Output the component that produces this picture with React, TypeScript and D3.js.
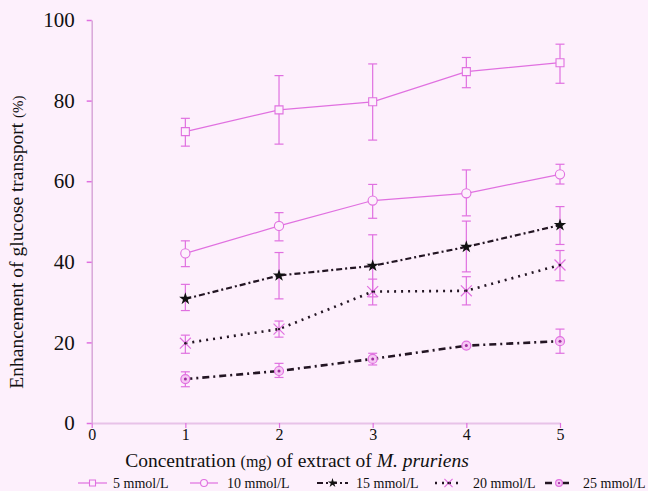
import React, { useRef, useEffect } from "react";
import * as d3 from "d3";

// values
const concentration = [1, 2, 3, 4, 5];
const xTicks = [0, 1, 2, 3, 4, 5];
const yTicks = [0, 20, 40, 60, 80, 100];

const mean5 = [72.3, 77.7, 79.7, 87.2, 89.4];
const hi5 = [75.6, 86.2, 89.1, 90.7, 94.0];
const lo5 = [68.7, 69.2, 70.2, 83.2, 84.3];

const mean10 = [42.1, 48.9, 55.2, 57.0, 61.7];
const hi10 = [45.2, 52.2, 59.2, 62.8, 64.2];
const lo10 = [38.8, 45.2, 50.8, 51.4, 59.3];

const mean15 = [30.8, 36.6, 39.0, 43.7, 49.1];
const hi15 = [34.4, 42.3, 46.7, 50.1, 53.7];
const lo15 = [27.9, 30.8, 31.3, 37.5, 44.3];

const mean20 = [19.8, 23.3, 32.6, 32.8, 39.2];
const hi20 = [21.8, 25.3, 35.7, 36.3, 42.8];
const lo20 = [17.3, 21.3, 29.3, 29.3, 35.3];

const mean25 = [10.9, 12.9, 15.9, 19.2, 20.3];
const hi25 = [12.7, 14.8, 17.3, 19.2, 23.3];
const lo25 = [9.0, 11.3, 14.4, 19.2, 17.3];

const seriesNames = ["5 mmol/L", "10 mmol/L", "15 mmol/L", "20 mmol/L", "25 mmol/L"];

const PINK = "#e070e0";
const DARK = "#231523";
const BG = "#fdf0fc";
const FONT = "'Liberation Serif', 'Times New Roman', serif";

const W = 648;
const H = 491;

// legend layout: [line start, line end, text x]
const legendPos = [
  [78, 107, 113],
  [190, 218, 227],
  [317, 348, 356],
  [435, 462, 473],
  [545, 573, 583]
];

const App = () => {
  const svgRef = useRef<SVGSVGElement | null>(null);

  useEffect(() => {
    const svg = d3.select(svgRef.current);
    svg.selectAll("*").remove();

    const xScale = d3.scaleLinear().domain([0, 5]).range([91.7, 560]);
    const yScale = d3.scaleLinear().domain([0, 100]).range([423, 20]);

    const series = [
      { name: seriesNames[0], mean: mean5, hi: hi5, lo: lo5, stroke: PINK, width: 1.2, dash: null, marker: "square" },
      { name: seriesNames[1], mean: mean10, hi: hi10, lo: lo10, stroke: PINK, width: 1.2, dash: null, marker: "circle" },
      { name: seriesNames[2], mean: mean15, hi: hi15, lo: lo15, stroke: DARK, width: 2.2, dash: "6,3,2,3", marker: "star" },
      { name: seriesNames[3], mean: mean20, hi: hi20, lo: lo20, stroke: DARK, width: 2.6, dash: "2,5", marker: "x" },
      { name: seriesNames[4], mean: mean25, hi: hi25, lo: lo25, stroke: DARK, width: 2.6, dash: "7,4,2,4", marker: "dot" }
    ];

    svg.append("rect").attr("width", W).attr("height", H).attr("fill", BG);

    // axes
    const yAxis = d3.axisLeft(yScale).tickValues(yTicks).tickSize(5).tickSizeOuter(0).tickPadding(12)
      .tickFormat(d3.format("d"));
    const gy = svg.append("g").attr("transform", `translate(${xScale(0)},0)`).call(yAxis);
    gy.attr("font-family", FONT);
    gy.select(".domain").attr("stroke", "#d9a6d9").attr("stroke-width", 1.5);
    gy.selectAll(".tick line").attr("stroke", PINK).attr("stroke-width", 1.5);
    gy.selectAll(".tick text").attr("font-family", FONT).attr("font-size", 21).attr("fill", "#111");

    const xAxis = d3.axisBottom(xScale).tickValues(xTicks).tickSize(5).tickSizeOuter(0).tickPadding(1)
      .tickFormat(d3.format("d"));
    const gx = svg.append("g").attr("transform", `translate(0,${yScale(0)})`).call(xAxis);
    gx.attr("font-family", FONT);
    gx.select(".domain").attr("stroke", "#e8c2e8").attr("stroke-width", 2);
    gx.selectAll(".tick line").attr("stroke", PINK).attr("stroke-width", 1.2);
    gx.selectAll(".tick text").attr("font-family", FONT).attr("font-size", 16).attr("fill", "#111");
    gy.raise();

    const drawMarker = (g: any, kind: string, cx: number, cy: number, k: number) => {
      if (kind === "square") {
        g.append("path").attr("d", d3.symbol(d3.symbolSquare, 64 * k * k)()).attr("transform", `translate(${cx},${cy})`)
          .attr("fill", BG).attr("stroke", PINK).attr("stroke-width", 1.1);
      } else if (kind === "circle") {
        g.append("circle").attr("cx", cx).attr("cy", cy).attr("r", 4.6 * k)
          .attr("fill", BG).attr("stroke", PINK).attr("stroke-width", 1.1);
      } else if (kind === "star") {
        g.append("path").attr("d", d3.symbol(d3.symbolStar, 48 * k * k)()).attr("transform", `translate(${cx},${cy})`)
          .attr("fill", "#111");
      } else if (kind === "x") {
        g.append("path").attr("d", d3.symbol(d3.symbolX, 80 * k * k)()).attr("transform", `translate(${cx},${cy})`)
          .attr("fill", "none").attr("stroke", PINK).attr("stroke-width", 1.2);
        g.append("circle").attr("cx", cx).attr("cy", cy).attr("r", 1.2).attr("fill", DARK);
      } else {
        g.append("circle").attr("cx", cx).attr("cy", cy).attr("r", 4.5 * k)
          .attr("fill", "#f6c8f4").attr("stroke", PINK).attr("stroke-width", 1.2);
        g.append("circle").attr("cx", cx).attr("cy", cy).attr("r", 1.5 * k).attr("fill", "#a030a0");
      }
    };

    const lineGen = d3.line<number>()
      .x((d, i) => xScale(concentration[i]))
      .y(d => yScale(d));

    series.forEach(s => {
      const g = svg.append("g");
      // error bars
      s.mean.forEach((m, i) => {
        if (s.hi[i] === s.lo[i]) return;
        const cx = xScale(concentration[i]);
        const y1 = yScale(s.hi[i]);
        const y2 = yScale(s.lo[i]);
        g.append("line").attr("x1", cx).attr("x2", cx).attr("y1", y1).attr("y2", y2)
          .attr("stroke", PINK).attr("stroke-width", 1.2);
        [y1, y2].forEach(yy => {
          g.append("line").attr("x1", cx - 4.5).attr("x2", cx + 4.5).attr("y1", yy).attr("y2", yy)
            .attr("stroke", PINK).attr("stroke-width", 1.2);
        });
      });
      g.append("path")
        .attr("d", lineGen(s.mean))
        .attr("fill", "none")
        .attr("stroke", s.stroke)
        .attr("stroke-width", s.width)
        .attr("stroke-dasharray", s.dash);
      s.mean.forEach((m, i) => drawMarker(g, s.marker, xScale(concentration[i]), yScale(m), 1));
    });

    // axis titles
    const yt = svg.append("text")
      .attr("transform", "translate(23,242) rotate(-90)")
      .attr("text-anchor", "middle")
      .attr("font-family", FONT)
      .attr("font-size", 19.5)
      .attr("fill", "#111");
    yt.append("tspan").text("Enhancement of glucose transport ");
    yt.append("tspan").attr("font-size", 15).text("(%)");

    const xt = svg.append("text")
      .attr("x", 297)
      .attr("y", 467)
      .attr("text-anchor", "middle")
      .attr("font-family", FONT)
      .attr("font-size", 19.5)
      .attr("fill", "#111");
    xt.append("tspan").text("Concentration ");
    xt.append("tspan").attr("font-size", 16).text("(mg)");
    xt.append("tspan").text(" of extract of ");
    xt.append("tspan").attr("font-style", "italic").text("M. pruriens");

    // legend
    series.forEach((s, i) => {
      const [x1, x2, tx] = legendPos[i];
      const g = svg.append("g");
      const ly = 483;
      g.append("line").attr("x1", x1).attr("x2", x2).attr("y1", ly).attr("y2", ly)
        .attr("stroke", s.stroke).attr("stroke-width", s.width).attr("stroke-dasharray", s.dash);
      drawMarker(g, s.marker, (x1 + x2) / 2, ly, 0.75);
      g.append("text").attr("x", tx).attr("y", 488)
        .attr("font-family", FONT).attr("font-size", 14).attr("fill", "#111").text(s.name);
    });
  }, []);

  return (
    <div style={{ position: "absolute", left: 0, top: 0 }}>
      <svg ref={svgRef} width={W} height={H} style={{ display: "block" }} />
    </div>
  );
};

export default App;
